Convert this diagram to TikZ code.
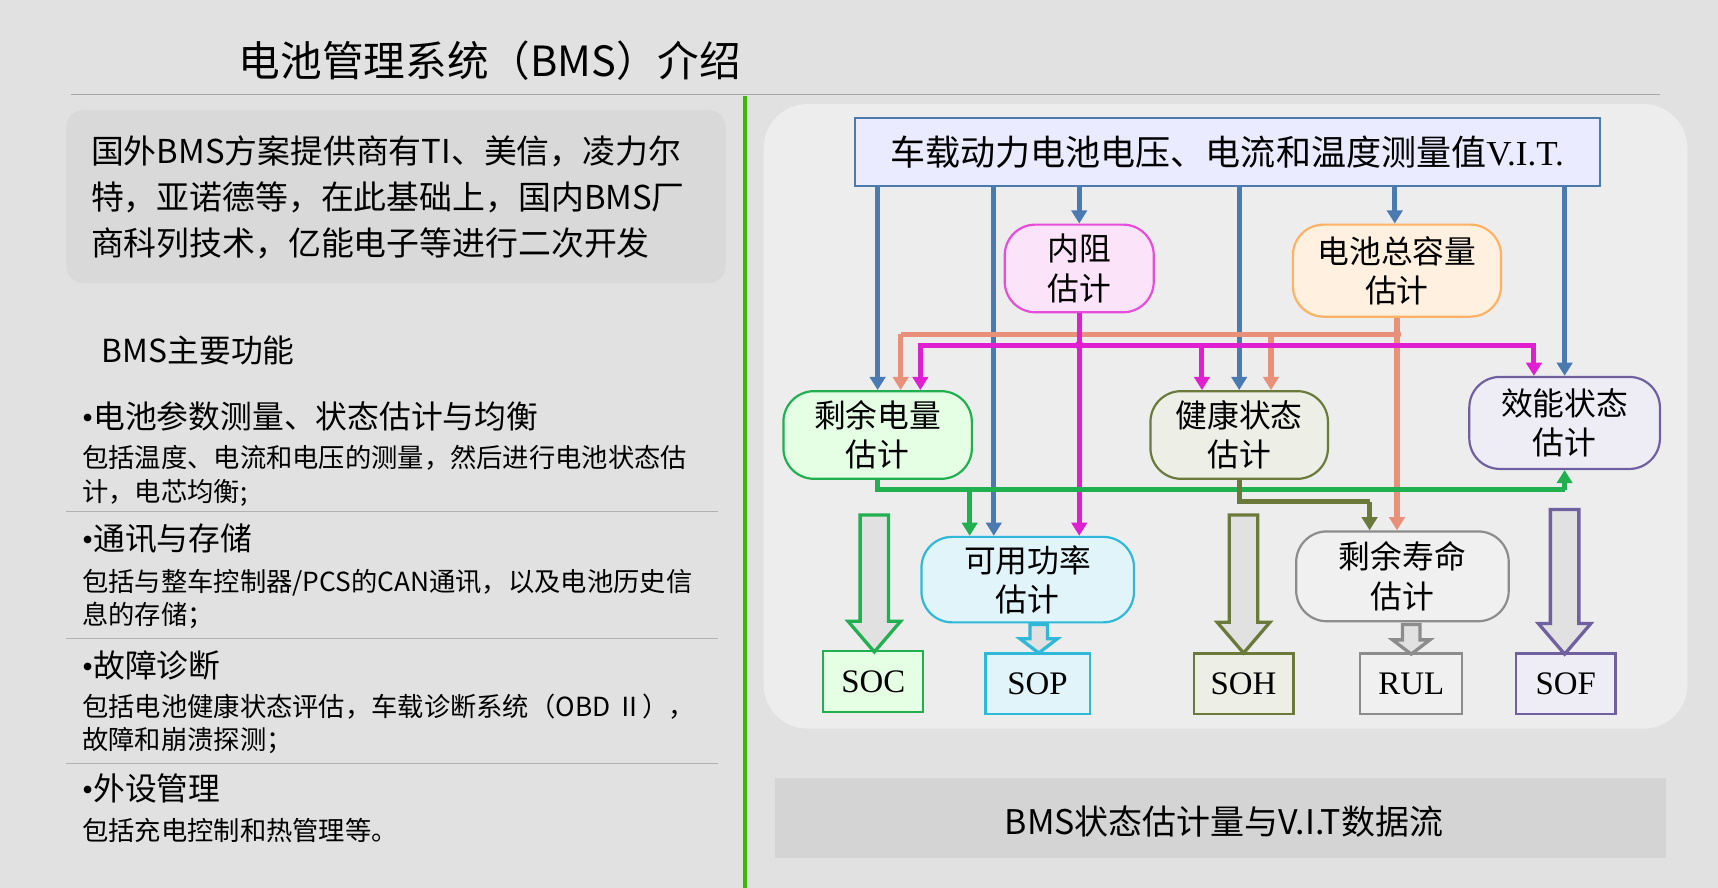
\documentclass[tikz,border=0pt]{standalone}
\usepackage{fontspec}
\setmainfont{Noto Sans CJK SC}
\newfontfamily\serifl{Liberation Serif}
\usetikzlibrary{arrows.meta,calc}
\definecolor{bg}{HTML}{E1E1E1}
\definecolor{vb}{HTML}{4A7AB0}
\definecolor{sal}{HTML}{E8907A}
\definecolor{mag}{HTML}{E020D0}
\definecolor{grn}{HTML}{20B050}
\definecolor{olv}{HTML}{6B7A3A}
\definecolor{cyn}{HTML}{30B8D8}
\definecolor{gry}{HTML}{8C8C8C}
\definecolor{pur}{HTML}{7060A0}
\tikzset{
 rbox/.style={draw, line width=1pt, rounded corners=14pt, align=center, font=\fontsize{14.5}{18}\selectfont, inner sep=0pt},
 sbox/.style={draw, line width=1pt, align=center, font=\serifl\fontsize{15}{16}\selectfont, inner sep=0pt, minimum width=45.5pt, minimum height=27.5pt},
 fl/.style={line width=2.3pt, -{Triangle[length=6pt,width=7pt]}},
 ln/.style={line width=2.3pt},
 sub/.style={anchor=west, font=\fontsize{12}{14}\selectfont},
 head/.style={anchor=west, font=\fontsize{14.5}{17}\selectfont},
}
\newcommand{\hollowarrow}[6]{%
 \draw[line width=1.5pt, fill=bg] (#1-#4/2,#2) -- (#1+#4/2,#2) -- (#1+#4/2,#3-#6) -- (#1+#5/2,#3-#6) -- (#1,#3) -- (#1-#5/2,#3-#6) -- (#1-#4/2,#3-#6) -- cycle;}
\newcommand{\bul}{{\serifl\char"2022}}
\begin{document}
\begin{tikzpicture}[x=0.5pt,y=-0.5pt]
\fill[bg] (0,0) rectangle (1568,810);
\useasboundingbox (0,0) rectangle (1568,810);
\node[anchor=west, font=\fontsize{19}{22}\selectfont] (title) at (211,55) {电池管理系统（BMS）介绍};
\draw[gray!70, line width=0.6pt] (65,86) -- (1515,86);
\draw[green!60!black!70!lime, line width=1.5pt] (680,88) -- (680,810);
\node[fill=black!15, rounded corners=8pt, minimum width=301pt, minimum height=79pt, anchor=north west] (intro) at (60,100) {};
\node[anchor=west, align=left, font=\fontsize{15}{21}\selectfont] (introtxt) at (76,180) {国外BMS方案提供商有TI、美信，凌力尔\\特，亚诺德等，在此基础上，国内BMS厂\\商科列技术，亿能电子等进行二次开发};
\node[anchor=west, font=\fontsize{14.5}{16}\selectfont] (mf) at (86,320) {BMS主要功能};
\node[head] (h1) at (68,380) {\bul 电池参数测量、状态估计与均衡};
\node[sub] (s1a) at (68,418) {包括温度、电流和电压的测量，然后进行电池状态估};
\node[sub] (s1b) at (68,450) {计，电芯均衡;};
\draw[gray!60, line width=0.6pt] (60,467) -- (655,467);
\node[head] (h2) at (68,492) {\bul 通讯与存储};
\node[sub] (s2a) at (68,532) {包括与整车控制器/PCS的CAN通讯，以及电池历史信};
\node[sub] (s2b) at (68,562) {息的存储；};
\draw[gray!60, line width=0.6pt] (60,583) -- (655,583);
\node[head] (h3) at (68,607) {\bul 故障诊断};
\node[sub] (s3a) at (68,645) {包括电池健康状态评估，车载诊断系统（OBD Ⅱ），};
\node[sub] (s3b) at (68,676) {故障和崩溃探测；};
\draw[gray!60, line width=0.6pt] (60,697) -- (655,697);
\node[head] (h4) at (68,720) {\bul 外设管理};
\node[sub] (s4a) at (68,758) {包括充电控制和热管理等。};
\fill[black!7, rounded corners=20pt] (697,95) rectangle (1540,665);
\node[fill=black!17, minimum width=406.5pt, minimum height=36.5pt, anchor=north west, inner sep=0] (cap) at (707,710) {};
\node[font=\fontsize{15.5}{18}\selectfont] (captxt) at (1117,750) {BMS状态估计量与V.I.T数据流};
\node[draw=vb, fill=blue!8!white, line width=1pt, minimum width=340pt, minimum height=31pt, font=\fontsize{16}{18}\selectfont, inner sep=0] (top) at (1120,139) {车载动力电池电压、电流和温度测量值\serifl V.I.T.};
\node[rbox, draw=mag!80, fill=mag!12, minimum width=68pt, minimum height=40pt] (nz) at (985,245) {内阻\\估计};
\node[rbox, draw=orange!60, fill=orange!12, minimum width=95pt, minimum height=42pt] (cap2) at (1275,247) {电池总容量\\估计};
\node[rbox, draw=grn, fill=green!10, minimum width=86pt, minimum height=40pt] (rem) at (801,397) {剩余电量\\估计};
\node[rbox, draw=olv, fill=olv!12, minimum width=81pt, minimum height=40pt] (hlt) at (1131,397) {健康状态\\估计};
\node[rbox, draw=pur, fill=pur!12, minimum width=87pt, minimum height=42pt] (eff) at (1428,386) {效能状态\\估计};
\node[rbox, draw=cyn, fill=cyn!15, minimum width=97pt, minimum height=39pt] (pow) at (938,529) {可用功率\\估计};
\node[rbox, draw=gry, fill=black!6, minimum width=97pt, minimum height=41pt] (rul) at (1280,526) {剩余寿命\\估计};
\node[sbox, draw=grn, fill=green!10] (soc) at (797,622) {SOC};
\node[sbox, draw=cyn, fill=cyn!15, minimum width=47.5pt] (sop) at (947,624) {SOP};
\node[sbox, draw=olv, fill=olv!12] (soh) at (1135,624) {SOH};
\node[sbox, draw=gry, fill=black!6, minimum width=46.5pt] (rulb) at (1288,624) {RUL};
\node[sbox, draw=pur, fill=pur!12] (sof) at (1429,624) {SOF};
\draw[fl, vb] (top.south -| rem.north) -- (rem.north);
\draw[fl, vb] (907,0 |- top.south) -- (907,0 |- pow.north);
\draw[fl, vb] (top.south -| nz.north) -- (nz.north);
\draw[fl, vb] (top.south -| hlt.north) -- (hlt.north);
\draw[fl, vb] (1273,0 |- top.south) -- (1273,0 |- cap2.north);
\draw[fl, vb] (top.south -| eff.north) -- (eff.north);
\coordinate (sj) at (1275,305);
\draw[ln, sal] (cap2.south) -- (sj);
\draw[ln, sal] (sj) -- (822,305);
\draw[fl, sal] (822,305) -- (822,0 |- rem.north);
\draw[fl, sal] (1160,305) -- (1160,0 |- hlt.north);
\draw[fl, sal] (sj) -- (sj |- rul.north);
\fill[sal] (sj) circle (4);
\coordinate (mj) at (985,315);
\draw[ln, mag] (nz.south) -- (mj);
\draw[ln, mag] (840,315) -- (1400,315);
\draw[fl, mag] (840,313) -- (840,0 |- rem.north);
\draw[fl, mag] (1097,315) -- (1097,0 |- hlt.north);
\draw[fl, mag] (1400,313) -- (1400,0 |- eff.north);
\draw[fl, mag] (mj) -- (mj |- pow.north);
\fill[mag] (mj) circle (4);
\draw[ln, grn] (rem.south) -- (801,447) -- (1428,447);
\draw[fl, grn] (1428,447) -- (eff.south);
\draw[fl, grn] (885,447) -- (885,0 |- pow.north);
\draw[ln, olv] (hlt.south) -- (1131,458) -- (1250,458);
\draw[fl, olv] (1250,458) -- (1250,0 |- rul.north);
\begin{scope}[draw=grn]\hollowarrow{798}{470}{595}{26}{48}{28}\end{scope}
\begin{scope}[draw=cyn]\hollowarrow{948}{570}{596}{16}{34}{13}\end{scope}
\begin{scope}[draw=olv]\hollowarrow{1135}{470}{596}{26}{48}{28}\end{scope}
\begin{scope}[draw=gry]\hollowarrow{1288}{570}{597}{16}{34}{13}\end{scope}
\begin{scope}[draw=pur]\hollowarrow{1428}{465}{597}{26}{48}{28}\end{scope}
\end{tikzpicture}
\end{document}
